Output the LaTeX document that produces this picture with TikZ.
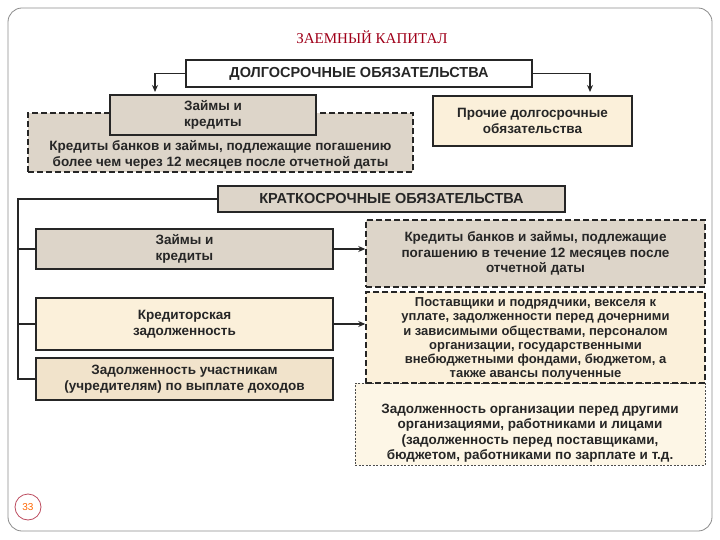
\documentclass[tikz,border=0pt]{standalone}
\usepackage{fontspec}
\setmainfont{Liberation Sans}
\newfontfamily\serifru{Liberation Serif}
\usetikzlibrary{arrows.meta}
\definecolor{grayb}{HTML}{DDD5C9}
\definecolor{beige}{HTML}{FBF0DA}
\definecolor{beige2}{HTML}{F1E3CB}
\definecolor{beige3}{HTML}{FDF6E6}
\definecolor{titlered}{HTML}{A0001A}
\tikzset{
  txt/.style={font=\bfseries\fontsize{13.5}{15.5}\selectfont, align=center, text=black!85},
  solidbox/.style={draw=black!85, line width=1.6pt},
  dashbox/.style={draw=black!85, line width=1.5pt, dash pattern=on 6pt off 3pt},
  dotbox/.style={draw=black!70, line width=0.8pt, dash pattern=on 2pt off 1.5pt},
  conn/.style={line width=1.6pt, draw=black!85},
  arr/.style={conn, -{Stealth[length=7pt,width=6pt]}},
}
\begin{document}
\begin{tikzpicture}[x=1pt,y=-1pt]
\useasboundingbox (0,0) rectangle (720,540);
\fill[white] (0,0) rectangle (720,540);
\draw[black!45, line width=0.8pt, rounded corners=14pt] (8,8) rectangle (712,531);
\node[draw=titlered!70, fill=white, circle, line width=0.8pt, minimum size=26pt, inner sep=0pt, text=orange!80!red, font=\fontsize{10}{12}\selectfont] (pg) at (28,507) {33};
\node[font=\serifru\fontsize{15}{17}\selectfont, text=titlered] (title) at (372,37) {ЗАЕМНЫЙ КАПИТАЛ};

% long-term
\node[solidbox, fill=white, txt, font=\bfseries\fontsize{14.5}{16}\selectfont, minimum width=346pt, minimum height=27pt, inner sep=0pt] (lt) at (359,73.5) {ДОЛГОСРОЧНЫЕ ОБЯЗАТЕЛЬСТВА};
\coordinate (la) at (155,92);
\coordinate (ra) at (590,92);
\draw[arr] (lt.west) -| (la);
\draw[arr] (lt.east) -| (ra);

\node[dashbox, fill=grayb, minimum width=385pt, minimum height=59pt, inner sep=0pt] (ldash) at (220.5,142.5) {};
\node[txt] (ldtext) at (220.5,155) {Кредиты банков и займы, подлежащие погашению\\более чем через 12 месяцев после отчетной даты};
\node[solidbox, fill=grayb, txt, minimum width=206pt, minimum height=40pt, inner sep=0pt] (lz) at (213,115) {Займы и\\кредиты};
\node[solidbox, fill=beige, txt, minimum width=199pt, minimum height=50pt, inner sep=0pt] (pr) at (532.5,121) {Прочие долгосрочные\\обязательства};

% short-term
\node[solidbox, fill=grayb, txt, font=\bfseries\fontsize{14.5}{16}\selectfont, minimum width=347pt, minimum height=26pt, inner sep=0pt] (st) at (391.5,199) {КРАТКОСРОЧНЫЕ ОБЯЗАТЕЛЬСТВА};

\node[solidbox, fill=grayb, txt, minimum width=297pt, minimum height=40pt, inner sep=0pt] (sz) at (184.5,249) {Займы и\\кредиты};
\node[solidbox, fill=beige, txt, minimum width=297pt, minimum height=52pt, inner sep=0pt] (kz) at (184.5,324) {Кредиторская\\задолженность};
\node[solidbox, fill=beige2, txt, minimum width=297pt, minimum height=42pt, inner sep=0pt] (zu) at (184.5,379) {Задолженность участникам\\(учредителям) по выплате доходов};

\coordinate (trunk) at (18,199);
\draw[conn] (st.west) -- (trunk) |- (zu.west);
\draw[conn] (18,249) -- (sz.west);
\draw[conn] (18,324) -- (kz.west);

\node[dashbox, fill=grayb, txt, minimum width=339pt, minimum height=67pt, inner sep=0pt] (r1) at (535.5,253.5) {Кредиты банков и займы, подлежащие\\погашению в течение 12 месяцев после\\отчетной даты};
\node[dotbox, fill=beige3, minimum width=350pt, minimum height=82pt, inner sep=0pt] (r3) at (530,424) {};
\node[txt] (r3t) at (530,433) {Задолженность организации перед другими\\организациями, работниками и лицами\\(задолженность перед поставщиками,\\бюджетом, работниками по зарплате и т.д.};
\node[dashbox, fill=beige, minimum width=339pt, minimum height=91pt, inner sep=0pt] (r2) at (535.5,337.5) {};
\node[txt, font=\bfseries\fontsize{13}{14.2}\selectfont] (r2t) at (535.5,339) {Поставщики и подрядчики, векселя к\\уплате, задолженности перед дочерними\\и зависимыми обществами, персоналом\\организации, государственными\\внебюджетными фондами, бюджетом, а\\также авансы полученные};

\draw[arr] (sz.east) -- (r1.west |- sz.east);
\draw[arr] (kz.east) -- (r2.west |- kz.east);
\end{tikzpicture}
\end{document}
